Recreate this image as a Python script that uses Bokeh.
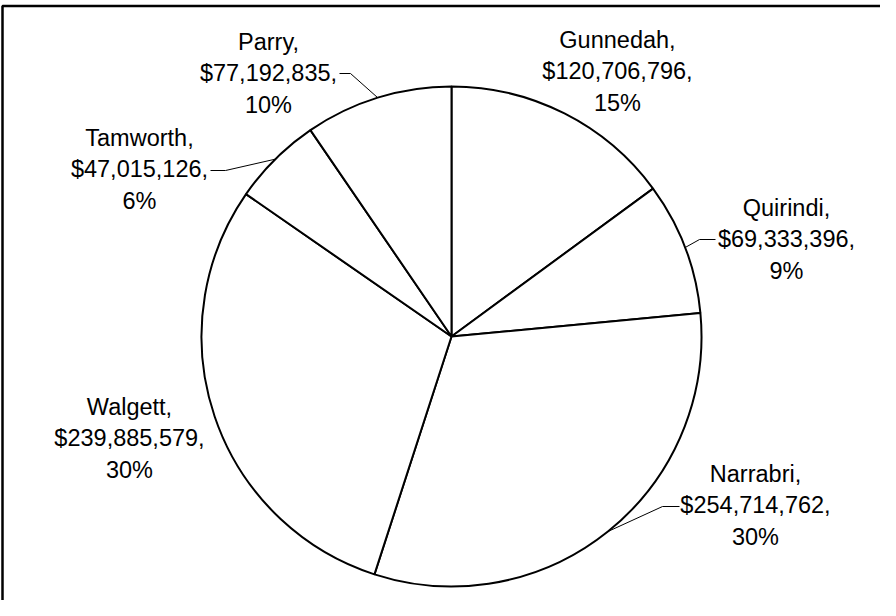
import numpy as np
from bokeh.plotting import figure
from bokeh.models import Range1d, BoxAnnotation, ColumnDataSource
from bokeh.core.properties import value
from bokeh.embed import file_html
from bokeh.resources import INLINE

# ---- data ----
regions = ["Gunnedah", "Quirindi", "Narrabri", "Walgett", "Tamworth", "Parry"]
amounts = [120706796, 69333396, 254714762, 239885579, 47015126, 77192835]
amount_labels = ["$120,706,796", "$69,333,396", "$254,714,762",
                 "$239,885,579", "$47,015,126", "$77,192,835"]
pct_labels = ["15%", "9%", "30%", "30%", "6%", "10%"]

# ---- layout (page pixel coordinates) ----
W, H = 880, 600
PAGE_H = 616
CX, CY, R = 459, 344, 250
label_pos = {
    "Gunnedah": (625, 79),
    "Quirindi": (794, 247),
    "Narrabri": (763, 513),
    "Walgett": (137, 446),
    "Tamworth": (147, 177),
    "Parry": (276, 81),
}
# leader line: text-side end, elbow (page coords)
leaders = {
    "Quirindi": [(723, 247), (707, 247)],
    "Narrabri": [(687, 514), (670, 514)],
    "Tamworth": [(218, 178), (233, 178)],
    "Parry": [(347, 81), (358, 81)],
}

FONT = "Liberation Sans"
FONT_SIZE = "23.5px"


def fy(y):
    return PAGE_H - y


vals = np.array(amounts, dtype=float)
frac = vals / vals.sum()
cum = np.concatenate([[0.0], np.cumsum(frac)])
start = np.pi / 2 - 2 * np.pi * cum[:-1]
end = np.pi / 2 - 2 * np.pi * cum[1:]
mid = (start + end) / 2

p = figure(width=W, height=H, output_backend="svg", toolbar_location=None,
           x_range=Range1d(8, 8 + W), y_range=Range1d(PAGE_H - 8 - H, PAGE_H - 8),
           x_axis_location=None, y_axis_location=None,
           min_border=0, min_border_left=0, min_border_right=0,
           min_border_top=0, min_border_bottom=0)
p.grid.visible = False
p.outline_line_color = None
p.background_fill_color = "white"
p.border_fill_color = "white"

src = ColumnDataSource(dict(region=regions, amount=amounts,
                            start=start, end=end))
p.wedge(x=CX, y=fy(CY), radius=R, start_angle="start", end_angle="end",
        direction="clock", source=src, fill_color="white",
        line_color="black", line_width=2)

# leader lines
xs, ys = [], []
for i, name in enumerate(regions):
    if name in leaders:
        (ex, ey), (bx, by) = leaders[name]
        ax = CX + R * np.cos(mid[i])
        ay = fy(CY) + R * np.sin(mid[i])
        xs.append([ex, bx, ax])
        ys.append([fy(ey), fy(by), ay])
p.multi_line(xs=xs, ys=ys, line_color="black", line_width=1)

# labels
texts = [f"{n},\n{a},\n{pc}" for n, a, pc in zip(regions, amount_labels, pct_labels)]
lsrc = ColumnDataSource(dict(
    x=[label_pos[n][0] for n in regions],
    y=[fy(label_pos[n][1]) for n in regions],
    text=texts))
p.text(x="x", y="y", text="text", source=lsrc, text_align="center",
       text_baseline="middle", text_font=value(FONT), text_font_size=FONT_SIZE,
       text_color="black", text_line_height=1.2)

# chart-area border (top and left edges visible; extends past the window)
p.add_layout(BoxAnnotation(left=10, top=fy(13.5), right=5000, bottom=-5000,
                           fill_alpha=0, fill_color=None,
                           line_color="black", line_alpha=1.0, line_width=2.5))

open("out.html", "w").write(file_html(p, INLINE))
